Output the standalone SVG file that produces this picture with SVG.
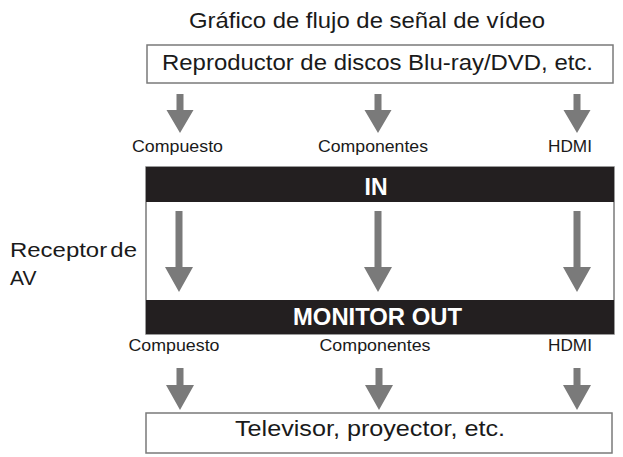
<svg xmlns="http://www.w3.org/2000/svg" width="623" height="457" viewBox="0 0 623 457">
<style>
  text { font-family: "Liberation Sans", Arial, sans-serif; fill: #1a1a1a; }
  .title { font-size: 22px; }
  .boxtxt { font-size: 22px; }
  .lbl { font-size: 17px; }
  .bar { fill: #231f20; }
  .bartxt { font-size: 23px; font-weight: bold; fill: #ffffff; }
  .box { fill: #ffffff; stroke: #7a7a7a; stroke-width: 1.5; }
  .arr { fill: #7a7a7a; }
</style>
<rect width="623" height="457" fill="#ffffff"/>
<text class="title" x="367" y="28" text-anchor="middle" textLength="356" lengthAdjust="spacingAndGlyphs">Gráfico de flujo de señal de vídeo</text>

<g id="source">
  <rect class="box" x="147" y="45" width="466" height="38"/>
  <text class="boxtxt" x="377.5" y="70" text-anchor="middle" textLength="431" lengthAdjust="spacingAndGlyphs">Reproductor de discos Blu-ray/DVD, etc.</text>
</g>

<g id="receiver">
  <rect class="box" x="146" y="167" width="468" height="167"/>
  <rect class="bar" x="146" y="167" width="468" height="35"/>
  <text class="bartxt" x="376" y="195" text-anchor="middle">IN</text>
  <rect class="bar" x="146" y="300" width="468" height="34"/>
  <text class="bartxt" x="377.5" y="325" text-anchor="middle" textLength="169" lengthAdjust="spacingAndGlyphs">MONITOR OUT</text>
  <text x="10" y="257" font-size="21" word-spacing="-3" textLength="127" lengthAdjust="spacingAndGlyphs">Receptor de</text>
  <text x="10" y="285" font-size="21">AV</text>
</g>

<g id="display">
  <rect class="box" x="146" y="413" width="466" height="40"/>
  <text class="boxtxt" x="370" y="436" text-anchor="middle" textLength="270" lengthAdjust="spacingAndGlyphs">Televisor, proyector, etc.</text>
</g>

<g id="labels">
  <text class="lbl" x="177.5" y="152" text-anchor="middle" textLength="91" lengthAdjust="spacingAndGlyphs">Compuesto</text>
  <text class="lbl" x="373" y="152" text-anchor="middle" textLength="110" lengthAdjust="spacingAndGlyphs">Componentes</text>
  <text class="lbl" x="570" y="152" text-anchor="middle" textLength="44" lengthAdjust="spacingAndGlyphs">HDMI</text>
  <text class="lbl" x="174" y="351" text-anchor="middle" textLength="91" lengthAdjust="spacingAndGlyphs">Compuesto</text>
  <text class="lbl" x="375" y="351" text-anchor="middle" textLength="111" lengthAdjust="spacingAndGlyphs">Componentes</text>
  <text class="lbl" x="570" y="351" text-anchor="middle" textLength="44" lengthAdjust="spacingAndGlyphs">HDMI</text>
</g>

<g id="connectors">
  <path class="arr" d="M176.5,94 H183.5 V110 H193.5 L180,133 L166.5,110 H176.5 Z"/>
  <path class="arr" d="M374.5,94 H381.5 V110 H391.5 L378,133 L364.5,110 H374.5 Z"/>
  <path class="arr" d="M573.5,94 H580.5 V110 H590.5 L577,133 L563.5,110 H573.5 Z"/>

  <path class="arr" d="M175.5,211 H182.5 V267 H193 L179,292 L165,267 H175.5 Z"/>
  <path class="arr" d="M374.5,211 H381.5 V267 H392 L378,292 L364,267 H374.5 Z"/>
  <path class="arr" d="M573.5,211 H580.5 V267 H591 L577,292 L563,267 H573.5 Z"/>

  <path class="arr" d="M176.5,368 H183.5 V385 H194 L180,410 L166,385 H176.5 Z"/>
  <path class="arr" d="M375.5,368 H382.5 V385 H393 L379,410 L365,385 H375.5 Z"/>
  <path class="arr" d="M573.5,368 H580.5 V385 H591 L577,410 L563,385 H573.5 Z"/>
</g>
</svg>
